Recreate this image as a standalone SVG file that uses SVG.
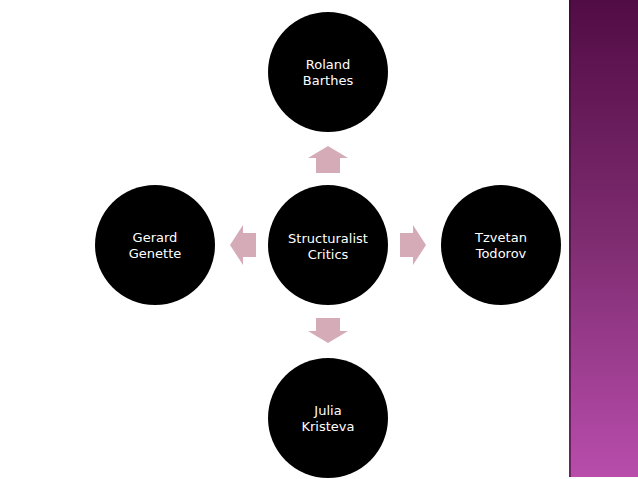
<svg xmlns="http://www.w3.org/2000/svg" width="638" height="479" viewBox="0 0 638 479">
<defs>
<linearGradient id="bar" x1="0" y1="0" x2="0" y2="1"><stop offset="0" stop-color="#520c45"/><stop offset="0.5" stop-color="#7e2c70"/><stop offset="1" stop-color="#b84dac"/></linearGradient>
</defs>
<style>
.n{fill:#000}
.t{fill:#fff;font-family:"DejaVu Sans",sans-serif;font-size:13px;text-anchor:middle}
.a{fill:#d6abb8}
</style>
<rect width="638" height="479" fill="#fff"/>
<rect x="569" y="0" width="69" height="477" fill="url(#bar)"/>
<rect x="569" y="0" width="2" height="477" fill="#3a0a32" opacity="0.6"/>
<g id="connectors">
<polygon class="a" points="328,146 348,158 340,158 340,173 316,173 316,158 308,158"/>
<polygon class="a" points="328,343 348,331 340,331 340,318 316,318 316,331 308,331"/>
<polygon class="a" points="426,245 413,225 413,233 400,233 400,257 413,257 413,265"/>
<polygon class="a" points="230,245 243,225 243,233 256,233 256,257 243,257 243,265"/>
</g>
<g id="center"><circle class="n" cx="328" cy="245" r="60"/><text class="t" x="328" y="243">Structuralist</text><text class="t" x="328" y="259">Critics</text></g>
<g id="barthes"><circle class="n" cx="328" cy="72" r="60"/><text class="t" x="328" y="69">Roland</text><text class="t" x="328" y="85">Barthes</text></g>
<g id="genette"><circle class="n" cx="155" cy="245" r="60"/><text class="t" x="155" y="242">Gerard</text><text class="t" x="155" y="258">Genette</text></g>
<g id="todorov"><circle class="n" cx="501" cy="245" r="60"/><text class="t" x="501" y="242">Tzvetan</text><text class="t" x="501" y="258">Todorov</text></g>
<g id="kristeva"><circle class="n" cx="328" cy="418" r="60"/><text class="t" x="328" y="415">Julia</text><text class="t" x="328" y="431">Kristeva</text></g>
</svg>
